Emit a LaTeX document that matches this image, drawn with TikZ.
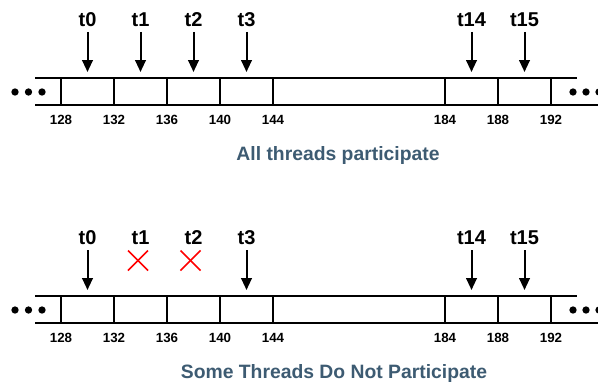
\documentclass[tikz,border=0pt]{standalone}
\usepackage{fontspec}
\setmainfont{Liberation Sans}
\usetikzlibrary{arrows.meta}
\definecolor{capblue}{HTML}{3D5B72}
\begin{document}
\begin{tikzpicture}[x=0.75pt,y=-0.75pt,
  rail/.style={line width=1.5pt},
  thr/.style={font=\bfseries\fontsize{15pt}{15pt}\selectfont, inner sep=0pt},
  addr/.style={font=\bfseries\fontsize{10pt}{10pt}\selectfont, inner sep=0pt},
  captext/.style={font=\bfseries\fontsize{14.5pt}{14.5pt}\selectfont, text=capblue, inner sep=0pt},
  ptr/.style={line width=1.5pt, -{Triangle[width=8pt,length=9pt]}},
  nope/.style={draw=red, line width=1.2pt},
  ellipsisdot/.style={circle, fill=black, inner sep=0pt, minimum size=5.5pt}]
\useasboundingbox (0,0) rectangle (598,385);
\foreach \r/\dy in {A/0,B/218} {
\begin{scope}[shift={(0,\dy)}]
  % rails
  \coordinate (\r tl) at (35,78);  \coordinate (\r tr) at (577,78);
  \coordinate (\r bl) at (35,105); \coordinate (\r br) at (598,105);
  \draw[rail] (\r tl) -- (\r tr);
  \draw[rail] (\r bl) -- (\r br);
  % dividers and addresses
  \foreach \x/\a in {61/128,114/132,167/136,220/140,273/144,445/184,498/188,551/192} {
    \coordinate (\r u\a) at (\x,78);
    \coordinate (\r d\a) at (\x,105);
    \draw[rail] (\r u\a) -- (\r d\a);
    \node[addr] (\r n\a) at (\x,120) {\a};
  }
  % ellipsis dots
  \foreach \x/\k in {15/1,28.5/2,42/3} { \node[ellipsisdot] (\r l\k) at (\x,92) {}; }
  \foreach \x/\k in {573/1,586/2,599/3} { \node[ellipsisdot] (\r r\k) at (\x,92) {}; }
  % thread labels
  \foreach \x/\t in {87.5/t0,140.5/t1,193.5/t2,246.5/t3,471.5/t14,524.5/t15} {
    \node[thr] (\r\t) at (\x,20) {\t};
  }
\end{scope}
}
% captions
\node[captext] (capA) at (338,155) {All threads participate};
\node[captext] (capB) at (334,373) {Some Threads Do Not Participate};
% arrows, row A
\foreach \x/\t in {87.5/t0,140.5/t1,193.5/t2,246.5/t3,471.5/t14,524.5/t15} {
  \coordinate (As\t) at (\x,32);
  \coordinate (Ae\t) at (\x,72);
  \draw[ptr] (As\t) -- (Ae\t);
}
% arrows, row B
\foreach \x/\t in {87.5/t0,246.5/t3,471.5/t14,524.5/t15} {
  \coordinate (Bs\t) at (\x,250);
  \coordinate (Be\t) at (\x,290);
  \draw[ptr] (Bs\t) -- (Be\t);
}
% crosses
\foreach \x/\t in {138/t1,190.5/t2} {
  \coordinate (Bx\t) at (\x,260.5);
  \draw[nope] ([shift={(-10,-10)}]Bx\t) -- ([shift={(10,10)}]Bx\t);
  \draw[nope] ([shift={(-10,10)}]Bx\t) -- ([shift={(10,-10)}]Bx\t);
}
\end{tikzpicture}
\end{document}
